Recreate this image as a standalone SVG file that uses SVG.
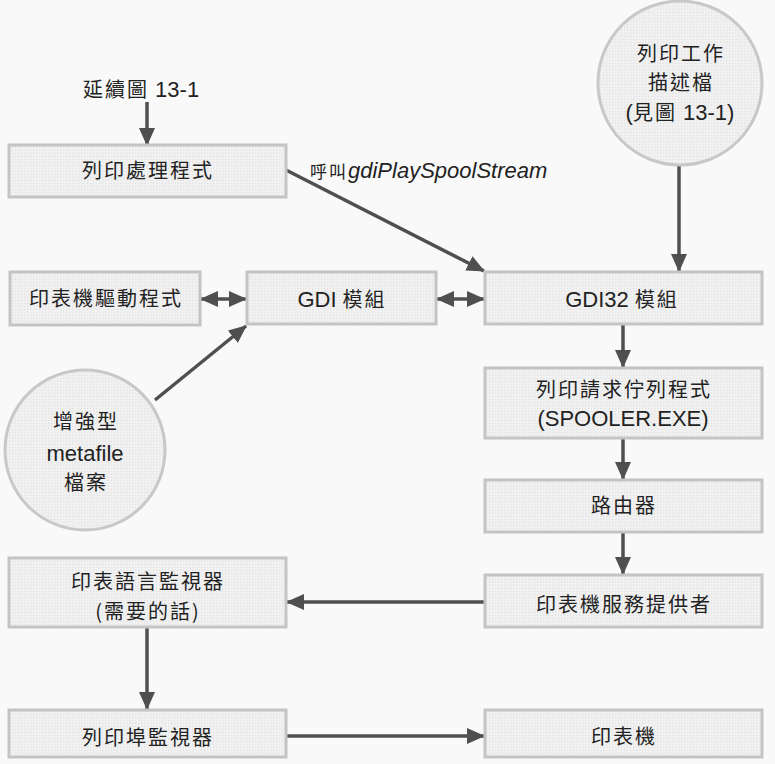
<svg xmlns="http://www.w3.org/2000/svg" width="775" height="764" viewBox="0 0 775 764">
  <defs>
    <pattern id="stipple" width="3" height="3" patternUnits="userSpaceOnUse">
      <rect width="3" height="3" fill="#efefef"/>
      <rect x="0" y="0" width="1" height="1" fill="#e2e2e2"/>
      <rect x="2" y="1" width="1" height="1" fill="#f6f6f6"/>
    </pattern>
    <marker id="head" markerUnits="userSpaceOnUse" markerWidth="18" markerHeight="16" viewBox="0 0 18 16" refX="17" refY="8" orient="auto-start-reverse">
      <path d="M0,0 L18,8 L0,16 z" fill="#4f4f4f"/>
    </marker>
    <style>
      .box { fill: url(#stipple); stroke: #c4c4c4; stroke-width: 3; }
      .cir { fill: url(#stipple); stroke: #c8c8c8; stroke-width: 3; }
      .cjk { font-family: "Noto Sans CJK TC", "Noto Sans CJK SC", sans-serif; font-size: 20px; letter-spacing: 2px; fill: #222; }
      .lat { font-family: "Liberation Sans", Arial, sans-serif; font-size: 22px; letter-spacing: 0; fill: #222; }
      .it { font-style: italic; }
      .mid { text-anchor: middle; }
      .link { stroke: #4f4f4f; stroke-width: 3.5; fill: none; }
      .one { marker-end: url(#head); }
      .two { marker-start: url(#head); marker-end: url(#head); }
    </style>
  </defs>

  <rect width="775" height="764" fill="#f9f9f9"/>

  <!-- connectors -->
  <g id="connectors">
    <line class="link one" x1="147" y1="102" x2="147" y2="145"/>
    <line class="link one" x1="286" y1="170" x2="484" y2="271"/>
    <line class="link one" x1="679" y1="165" x2="679" y2="271"/>
    <line class="link two" x1="201" y1="299" x2="246" y2="299"/>
    <line class="link two" x1="437" y1="299" x2="484" y2="299"/>
    <line class="link one" x1="155" y1="400" x2="246" y2="326"/>
    <line class="link one" x1="623" y1="325" x2="623" y2="367"/>
    <line class="link one" x1="623" y1="439" x2="623" y2="479"/>
    <line class="link one" x1="623" y1="533" x2="623" y2="574"/>
    <line class="link one" x1="485" y1="602" x2="287" y2="602"/>
    <line class="link one" x1="147" y1="628" x2="147" y2="709"/>
    <line class="link one" x1="287" y1="736" x2="484" y2="736"/>
  </g>

  <!-- labels outside nodes -->
  <g id="continued">
    <text x="83" y="97"><tspan class="cjk">延續圖</tspan><tspan class="lat"> 13-1</tspan></text>
  </g>
  <g id="call-label">
    <text x="310" y="178"><tspan class="cjk" style="font-size:17px;letter-spacing:2px">呼叫</tspan><tspan class="lat it">gdiPlaySpoolStream</tspan></text>
  </g>

  <!-- nodes -->
  <g id="print-processor">
    <rect class="box" x="9" y="145" width="277" height="52"/>
    <text class="cjk mid" x="148" y="178">列印處理程式</text>
  </g>

  <g id="print-job-file">
    <circle class="cir" cx="680" cy="83" r="82"/>
    <text class="cjk mid" x="681" y="61">列印工作</text>
    <text class="cjk mid" x="681" y="90">描述檔</text>
    <text class="mid" x="680" y="120"><tspan class="lat">(</tspan><tspan class="cjk">見圖</tspan><tspan class="lat"> 13-1)</tspan></text>
  </g>

  <g id="printer-driver">
    <rect class="box" x="10" y="272" width="190" height="53"/>
    <text class="cjk mid" x="106" y="306">印表機驅動程式</text>
  </g>

  <g id="gdi">
    <rect class="box" x="247" y="272" width="189" height="52"/>
    <text class="mid" x="342" y="307"><tspan class="lat">GDI </tspan><tspan class="cjk">模組</tspan></text>
  </g>

  <g id="gdi32">
    <rect class="box" x="485" y="272" width="277" height="52"/>
    <text class="mid" x="622" y="307"><tspan class="lat">GDI32 </tspan><tspan class="cjk">模組</tspan></text>
  </g>

  <g id="emf">
    <circle class="cir" cx="85" cy="450" r="80"/>
    <text class="cjk mid" x="86" y="429">增強型</text>
    <text class="lat mid" x="85" y="461">metafile</text>
    <text class="cjk mid" x="86" y="490">檔案</text>
  </g>

  <g id="spooler">
    <rect class="box" x="485" y="368" width="277" height="70"/>
    <text class="cjk mid" x="624" y="397">列印請求佇列程式</text>
    <text class="lat mid" x="623" y="426">(SPOOLER.EXE)</text>
  </g>

  <g id="router">
    <rect class="box" x="485" y="480" width="277" height="52"/>
    <text class="cjk mid" x="624" y="513">路由器</text>
  </g>

  <g id="print-provider">
    <rect class="box" x="485" y="575" width="277" height="52"/>
    <text class="cjk mid" x="624" y="612">印表機服務提供者</text>
  </g>

  <g id="language-monitor">
    <rect class="box" x="9" y="558" width="277" height="69"/>
    <text class="cjk mid" x="148" y="589">印表語言監視器</text>
    <text class="cjk mid" x="148" y="619">(需要的話)</text>
  </g>

  <g id="port-monitor">
    <rect class="box" x="9" y="710" width="277" height="47"/>
    <text class="cjk mid" x="148" y="745">列印埠監視器</text>
  </g>

  <g id="printer">
    <rect class="box" x="485" y="710" width="277" height="47"/>
    <text class="cjk mid" x="624" y="744">印表機</text>
  </g>
</svg>
